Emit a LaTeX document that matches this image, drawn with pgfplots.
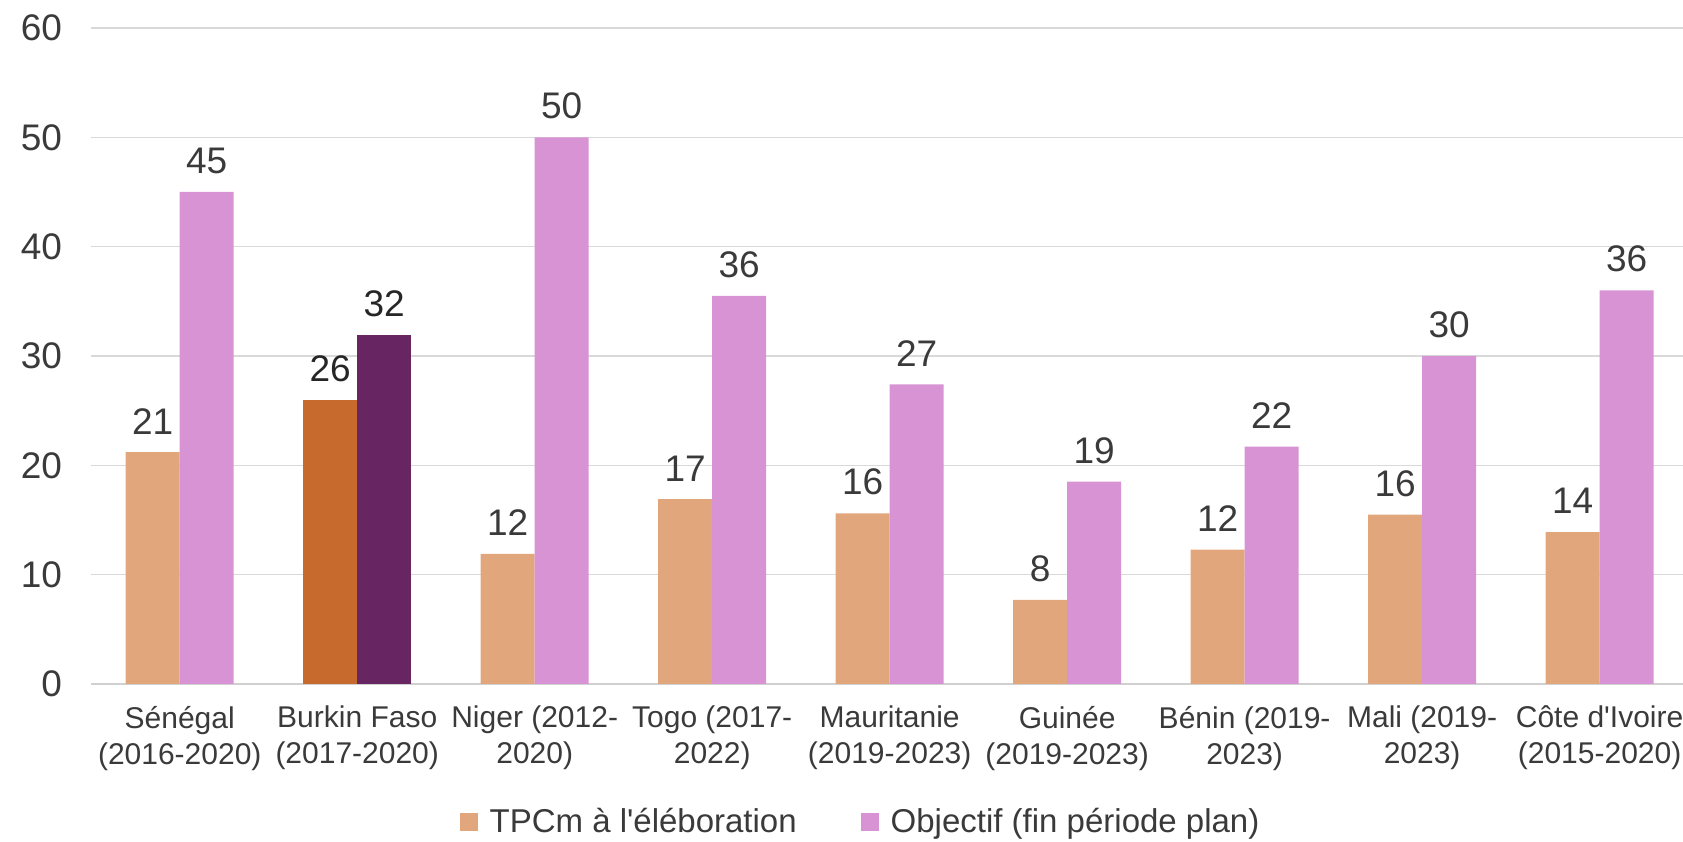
\documentclass[border=0pt]{standalone}
\usepackage{fontspec}
\setmainfont{Liberation Sans}
\usepackage{pgfplots}
\pgfplotsset{compat=1.18}
\usetikzlibrary{calc}

\definecolor{tpc}{HTML}{E2A67C}
\definecolor{obj}{HTML}{D893D4}
\definecolor{tpcbf}{HTML}{C66B2D}
\definecolor{objbf}{HTML}{672562}
\definecolor{gridgray}{HTML}{D9D9D9}
\definecolor{axgray}{HTML}{D0D0D0}
\definecolor{txt}{HTML}{3A3A3A}

\begin{document}
\begin{tikzpicture}
\begin{axis}[
  scale only axis, width=796pt, height=328pt,
  ybar, bar width=27pt,
  xmin=-0.5, xmax=8.47, ymin=0, ymax=60,
  ytick={0,10,...,60},
  xtick={0,...,8},
  xticklabels={{Sénégal\\(2016-2020)},{Burkin Faso\\(2017-2020)},{Niger (2012-\\2020)},{Togo (2017-\\2022)},{Mauritanie\\(2019-2023)},{Guinée\\(2019-2023)},{Bénin (2019-\\2023)},{Mali (2019-\\2023)},{Côte d\textquotesingle Ivoire\\(2015-2020)}},
  axis x line*=bottom, axis y line*=left,
  y axis line style={draw=none},
  x axis line style={draw=axgray, line width=1pt, -},
  major tick length=0pt,
  ymajorgrids, grid style={draw=gridgray, line width=0.75pt},
  yticklabel style={font=\fontsize{18.5}{20}\selectfont, text=txt, xshift=-11pt},
  xticklabel style={font=\fontsize{15}{18}\selectfont, text=txt, align=center, yshift=-7.5pt},
  /pgf/number format/assume math mode=true,
  nodes near coords, point meta=explicit symbolic,
  every node near coord/.append style={font=\fontsize{18.5}{20}\selectfont, text=txt, yshift=5.5pt},
  clip=false,
  legend style={at={(0.484,-0.21)}, anchor=center, draw=none, legend columns=2,
    font=\fontsize{16.5}{18}\selectfont, text=txt,
    /tikz/every odd column/.append style={column sep=4pt},
    /tikz/every even column/.append style={column sep=30pt}},
  legend image code/.code={\fill[#1] (0pt,-4.5pt) rectangle (9pt,4.5pt);},
]
% TPCm a l'elaboration
\addplot[fill=tpc, draw=none, bar shift=-13.5pt] coordinates {
  (0,21.2)[21] (2,11.9)[12] (3,16.9)[17] (4,15.6)[16] (5,7.7)[8] (6,12.3)[12] (7,15.5)[16] (8,13.9)[14]};
% Objectif
\addplot[fill=obj, draw=none, bar shift=13.5pt] coordinates {
  (0,45.0)[45] (2,50.0)[50] (3,35.5)[36] (4,27.4)[27] (5,18.5)[19] (6,21.7)[22] (7,30.0)[30] (8,36.0)[36]};
% Burkina Faso highlighted
\addplot[fill=tpcbf, draw=none, bar shift=-13.5pt, forget plot,
  every node near coord/.append style={text=black!85}] coordinates {(1,26.0)[26]};
\addplot[fill=objbf, draw=none, bar shift=13.5pt, forget plot,
  every node near coord/.append style={text=black!85}] coordinates {(1,31.9)[32]};
\legend{TPCm à l\textquotesingle éléboration, Objectif (fin période plan)}
\end{axis}
\pgfresetboundingbox
\path[use as bounding box] ($(current axis.south west)+(-45.5pt,-79pt)$) rectangle ($(current axis.north east)+(0pt,14pt)$);
\end{tikzpicture}
\end{document}
